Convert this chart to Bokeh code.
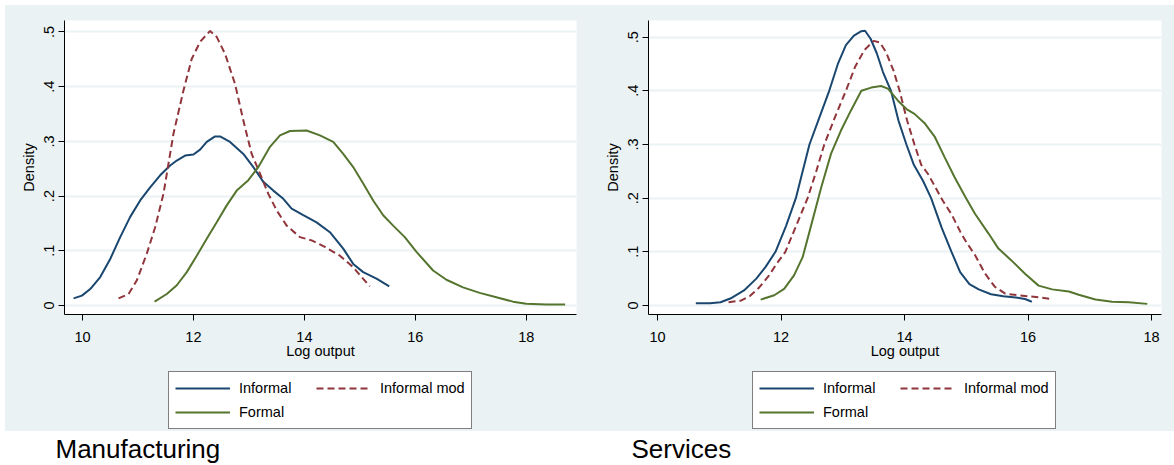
from bokeh.plotting import figure
from bokeh.layouts import row, column
from bokeh.models import Range1d, FixedTicker, Legend, LegendItem, Label
from bokeh.embed import file_html
from bokeh.resources import INLINE

# ---------------- data ----------------
series_labels = ["Informal", "Informal mod", "Formal"]
legend_order = [0, 2, 1]  # legend fills column by column
panel_titles = ["Manufacturing", "Services"]
x_label = "Log output"
y_label = "Density"
x_ticks = [10, 12, 14, 16, 18]
y_ticks = [0, 0.1, 0.2, 0.3, 0.4, 0.5]
y_tick_labels = ["0", ".1", ".2", ".3", ".4", ".5"]

# Manufacturing
man_inf_x = [9.84, 9.99, 10.14, 10.32, 10.50, 10.68, 10.86, 11.04, 11.22, 11.40, 11.58, 11.70, 11.85,
             12.00, 12.12, 12.24, 12.39, 12.48, 12.66, 12.90, 13.08, 13.26, 13.44, 13.62, 13.77, 13.98,
             14.22, 14.46, 14.70, 14.88, 15.06, 15.30, 15.53]
man_inf_y = [0.013, 0.018, 0.030, 0.052, 0.085, 0.125, 0.162, 0.192, 0.216, 0.238, 0.256, 0.265, 0.274,
             0.276, 0.285, 0.299, 0.309, 0.309, 0.299, 0.277, 0.253, 0.226, 0.210, 0.195, 0.177, 0.165,
             0.152, 0.134, 0.104, 0.076, 0.061, 0.049, 0.035]
man_mod_x = [10.65, 10.83, 10.98, 11.16, 11.31, 11.46, 11.64, 11.82, 11.97, 12.12, 12.30, 12.42, 12.57,
             12.75, 12.90, 13.05, 13.20, 13.35, 13.50, 13.68, 13.92, 14.13, 14.37, 14.64, 14.88, 15.03, 15.18]
man_mod_y = [0.013, 0.021, 0.046, 0.095, 0.143, 0.204, 0.314, 0.393, 0.451, 0.482, 0.502, 0.491, 0.460,
             0.405, 0.338, 0.277, 0.241, 0.204, 0.174, 0.146, 0.125, 0.119, 0.107, 0.091, 0.070, 0.052, 0.035]
man_for_x = [11.30, 11.52, 11.70, 11.88, 12.06, 12.24, 12.42, 12.60, 12.78, 12.99, 13.17, 13.38, 13.56,
             13.74, 14.04, 14.28, 14.52, 14.70, 14.88, 15.06, 15.24, 15.42, 15.60, 15.81, 16.02, 16.32,
             16.56, 16.86, 17.16, 17.46, 17.76, 18.00, 18.36, 18.70]
man_for_y = [0.007, 0.021, 0.037, 0.061, 0.091, 0.122, 0.152, 0.183, 0.210, 0.229, 0.253, 0.290, 0.311,
             0.319, 0.320, 0.311, 0.299, 0.277, 0.253, 0.223, 0.192, 0.165, 0.146, 0.125, 0.098, 0.064,
             0.047, 0.033, 0.023, 0.015, 0.007, 0.003, 0.002, 0.002]

# Services
srv_inf_x = [10.62, 10.85, 11.02, 11.20, 11.40, 11.60, 11.75, 11.91, 12.08, 12.24, 12.35, 12.46, 12.62,
             12.78, 12.92, 13.05, 13.18, 13.30, 13.36, 13.45, 13.55, 13.65, 13.78, 13.90, 14.03, 14.15,
             14.30, 14.43, 14.60, 14.76, 14.90, 15.05, 15.20, 15.40, 15.60, 15.80, 15.95, 16.06]
srv_inf_y = [0.004, 0.004, 0.006, 0.014, 0.028, 0.050, 0.072, 0.100, 0.148, 0.200, 0.250, 0.300, 0.350,
             0.400, 0.450, 0.485, 0.503, 0.511, 0.512, 0.497, 0.470, 0.435, 0.400, 0.345, 0.300, 0.262,
             0.232, 0.200, 0.145, 0.100, 0.062, 0.040, 0.030, 0.021, 0.017, 0.015, 0.012, 0.007]
srv_mod_x = [11.15, 11.35, 11.50, 11.65, 11.80, 11.93, 12.07, 12.25, 12.43, 12.57, 12.70, 12.87, 13.05,
             13.20, 13.35, 13.50, 13.60, 13.70, 13.82, 13.92, 14.04, 14.16, 14.27, 14.38, 14.49, 14.62,
             14.76, 14.90, 15.00, 15.14, 15.30, 15.46, 15.63, 15.84, 16.01, 16.20, 16.36]
srv_mod_y = [0.006, 0.009, 0.018, 0.034, 0.055, 0.078, 0.100, 0.150, 0.200, 0.250, 0.300, 0.350, 0.400,
             0.445, 0.476, 0.493, 0.490, 0.472, 0.438, 0.400, 0.345, 0.300, 0.262, 0.245, 0.222, 0.195,
             0.170, 0.138, 0.118, 0.094, 0.060, 0.035, 0.022, 0.019, 0.017, 0.015, 0.012]
srv_for_x = [11.67, 11.89, 12.05, 12.21, 12.35, 12.48, 12.65, 12.81, 12.97, 13.13, 13.30, 13.46, 13.62,
             13.73, 13.89, 14.03, 14.16, 14.33, 14.49, 14.65, 14.81, 14.98, 15.14, 15.36, 15.52, 15.73,
             15.95, 16.17, 16.39, 16.66, 16.82, 17.09, 17.36, 17.63, 17.93]
srv_for_y = [0.011, 0.019, 0.031, 0.056, 0.090, 0.146, 0.220, 0.283, 0.326, 0.363, 0.400, 0.406, 0.409,
             0.404, 0.382, 0.366, 0.357, 0.339, 0.314, 0.276, 0.239, 0.203, 0.171, 0.134, 0.106, 0.084,
             0.059, 0.037, 0.030, 0.026, 0.020, 0.011, 0.007, 0.006, 0.003]

# ---------------- style ----------------
BG = "#EAF2F3"
COLORS = ["#1A476F", "#90353B", "#55752F"]
DASHES = ["solid", "7 4", "solid"]
FONT = "Liberation Sans"
FS = "14.5px"


def make_panel(xr, yr, series, width, mbl, mbr):
    p = figure(width=width, height=360, x_range=Range1d(*xr), y_range=Range1d(*yr),
               output_backend="svg", toolbar_location=None,
               min_border_left=mbl, min_border_right=mbr, min_border_top=15, min_border_bottom=51,
               border_fill_color=BG, background_fill_color="white", outline_line_color=None)
    p.xgrid.visible = False
    p.ygrid.grid_line_color = BG
    p.ygrid.grid_line_width = 2

    p.xaxis.ticker = FixedTicker(ticks=x_ticks)
    p.yaxis.ticker = FixedTicker(ticks=y_ticks)
    p.yaxis.major_label_overrides = {t: l for t, l in zip(y_ticks, y_tick_labels)}
    p.yaxis.major_label_orientation = "vertical"
    for ax in (p.xaxis, p.yaxis):
        ax.axis_line_color = "black"
        ax.axis_line_width = 1
        ax.major_tick_line_color = "black"
        ax.major_tick_out = 6
        ax.major_tick_in = 0
        ax.minor_tick_line_color = None
        ax.major_label_text_font = FONT
        ax.major_label_text_font_size = FS
        ax.major_label_text_color = "black"
        ax.axis_label_text_font = FONT
        ax.axis_label_text_font_size = FS
        ax.axis_label_text_font_style = "normal"
        ax.axis_label_text_color = "black"
    p.xaxis.axis_label = x_label
    p.yaxis.axis_label = y_label
    p.xaxis.major_label_standoff = 11
    p.xaxis.axis_label_standoff = -2
    p.yaxis.major_label_standoff = 4
    p.yaxis.axis_label_standoff = 5

    for (xs, ys), c, d in zip(series, COLORS, DASHES):
        p.line(xs, ys, line_color=c, line_width=2, line_dash=d)
    return p


def make_legend_strip(series, width, loc):
    # the series are drawn outside this strip's view; only their legend keys show
    lf = figure(width=width, height=66, x_range=Range1d(0, 1), y_range=Range1d(0, 1),
                output_backend="svg", toolbar_location=None, min_border=0,
                x_axis_location=None, y_axis_location=None, outline_line_color=None,
                border_fill_color=BG, background_fill_color=BG)
    lf.grid.visible = False
    rs = []
    for (xs, ys), c, d in zip(series, COLORS, DASHES):
        rs.append(lf.line(xs, ys, line_color=c, line_width=2, line_dash=d))
    items = [LegendItem(label=series_labels[i], renderers=[rs[i]]) for i in legend_order]
    leg = Legend(items=items, ncols=2, location=loc,
                 border_line_color="black", border_line_width=1,
                 background_fill_color="white", background_fill_alpha=1,
                 label_text_font=FONT, label_text_font_size=FS, label_text_color="black",
                 glyph_width=55, glyph_height=20, label_height=20, label_width=73,
                 label_standoff=9, padding=6, spacing=4, margin=0)
    lf.add_layout(leg, "center")
    return lf


def make_caption(text, width, xoff):
    c = figure(width=width, height=34, x_range=Range1d(0, 1), y_range=Range1d(0, 1),
               output_backend="svg", toolbar_location=None, min_border=0,
               x_axis_location=None, y_axis_location=None, outline_line_color=None,
               border_fill_color="white", background_fill_color="white")
    c.grid.visible = False
    c.add_layout(Label(x=xoff, y=17, x_units="screen", y_units="screen", text=text,
                       text_font=FONT, text_font_size="26px", text_baseline="middle",
                       text_color="black"))
    return c


man_series = [(man_inf_x, man_inf_y), (man_mod_x, man_mod_y), (man_for_x, man_for_y)]
srv_series = [(srv_inf_x, srv_inf_y), (srv_mod_x, srv_mod_y), (srv_for_x, srv_for_y)]

p1 = make_panel((9.676, 18.905), (-0.0165, 0.521), man_series, 585, 59, 14)
p2 = make_panel((9.854, 18.16), (-0.0168, 0.531), srv_series, 584, 58, 13)
l1 = make_legend_strip(man_series, 585, (163, 2))
l2 = make_legend_strip(srv_series, 584, (162, 2))
c1 = make_caption(panel_titles[0], 585, 50)
c2 = make_caption(panel_titles[1], 584, 41)

layout = column(row(p1, p2, styles={"background-color": BG}),
                row(l1, l2, styles={"background-color": BG}),
                row(c1, c2), margin=(5, 0, 0, 5))
open("out.html", "w").write(file_html(layout, INLINE))
